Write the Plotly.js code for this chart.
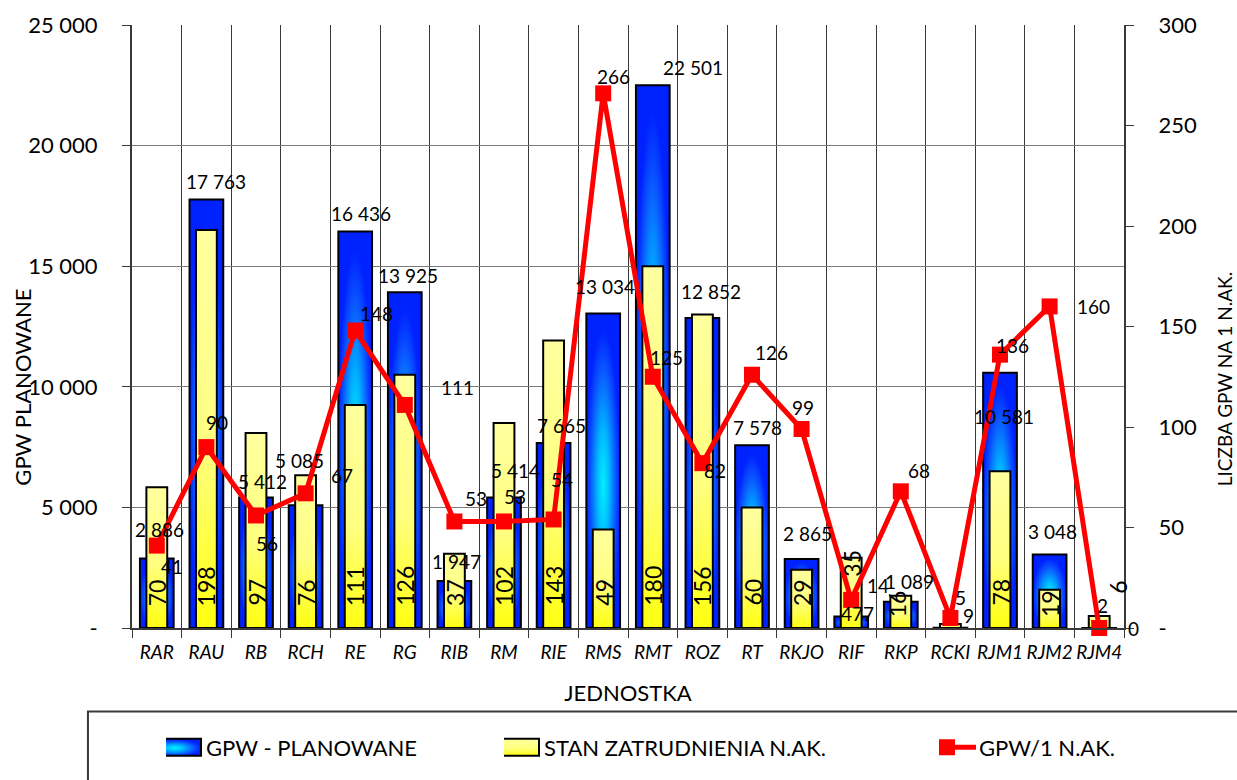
<!DOCTYPE html>
<html>
<head>
<meta charset="utf-8">
<script src="https://cdn.plot.ly/plotly-3.0.1.min.js"></script>
<style>
  html, body { margin: 0; padding: 0; background: #ffffff; }
  #chart { width: 1237px; height: 780px; }
</style>
</head>
<body>
<svg width="0" height="0" style="position:absolute">
  <defs>
    <radialGradient id="gBlue" cx="0.5" cy="0.55" r="0.5">
      <stop offset="0" stop-color="#00f2ff"/>
      <stop offset="0.35" stop-color="#00b8ff"/>
      <stop offset="0.75" stop-color="#0a55ff"/>
      <stop offset="1" stop-color="#0022ff"/>
    </radialGradient>
    <linearGradient id="gYellow" x1="0" y1="0" x2="0" y2="1">
      <stop offset="0" stop-color="#ffff9e"/>
      <stop offset="0.55" stop-color="#ffff80"/>
      <stop offset="1" stop-color="#ffff10"/>
    </linearGradient>
  </defs>
</svg>
<div id="chart"></div>
<script>
// ---- data ----
const categories = ['RAR','RAU','RB','RCH','RE','RG','RIB','RM','RIE','RMS','RMT','ROZ','RT','RKJO','RIF','RKP','RCKI','RJM1','RJM2','RJM4'];
const gpwPlanned = [2886,17763,5412,5085,16436,13925,1947,5414,7665,13034,22501,12852,7578,2865,477,1089,9,10581,3048,2];
const staffCount = [70,198,97,76,111,126,37,102,143,49,180,156,60,29,35,16,2,78,19,6];
const staffLabels = ['70','198','97','76','111','126','37','102','143','49','180','156','60','29','35','16','','78','19','6'];
const gpwPerStaff = [41,90,56,67,148,111,53,53,54,266,125,82,126,99,14,68,5,136,160,0];
const leftTickVals = [0,5000,10000,15000,20000,25000];
const leftTickText = ['-','5 000','10 000','15 000','20 000','25 000'];
const rightTickVals = [0,50,100,150,200,250,300];
const rightTickText = ['-','50','100','150','200','250','300'];

// ---- label placement (pixel nudges, [dx, up]) as in the original chart ----
const gpwLabelOffset = {
  RAR:[3,29], RAU:[10,18], RB:[6,16], RCH:[-6,45], RE:[6,18], RG:[3,17], RIB:[2,20],
  RM:[11,27], RIE:[8,18], RMS:[2,27], RMT:[40,18], ROZ:[9,27], RT:[5,18], RKJO:[6,25],
  RIF:[6,3], RKP:[9,20], RCKI:[18,12], RJM1:[4,-44], RJM2:[3,23], RJM4:[3,22]
};
const ratioLabelOffset = {
  RAR:[15,-21], RAU:[11,25], RB:[11,-28], RCH:[36,18], RE:[21,17], RG:[53,17], RIB:[22,23],
  RM:[11,25], RIE:[8,40], RMS:[10,17], RMT:[14,19], ROZ:[13,-7], RT:[19,22], RKJO:[1,22],
  RIF:[27,14], RKP:[18,21], RCKI:[10,20], RJM1:[12,9], RJM2:[44,0], RJM4:[34,0]
};
const staffLabelOffset = { RIF:[0,49], RKP:[-4,9], RJM2:[0,9], RJM4:[18,32] };
const staffLabelDefault = [0, 20];

const FONT = 'Lato, "Open Sans", sans-serif';
function fmt(v){ return String(v).replace(/\B(?=(\d{3})+(?!\d))/g, ' '); }

const traces = [
  {
    type: 'bar', name: 'GPW - PLANOWANE', x: categories, y: gpwPlanned,
    yaxis: 'y', width: 0.68, legend: 'legend',
    marker: { color: '#1060ff', line: { color: '#000000', width: 2 } },
    hoverinfo: 'skip'
  },
  {
    type: 'bar', name: 'STAN ZATRUDNIENIA N.AK.', x: categories, y: staffCount,
    yaxis: 'y2', width: 0.42, legend: 'legend2',
    marker: { color: '#ffff70', line: { color: '#000000', width: 2 } },
    hoverinfo: 'skip'
  },
  {
    type: 'scatter', mode: 'lines+markers', name: 'GPW/1 N.AK.',
    x: categories, y: gpwPerStaff, yaxis: 'y2', legend: 'legend3',
    line: { color: '#ff0000', width: 5 },
    marker: { color: '#ff0000', symbol: 'square', size: 16 },
    cliponaxis: false, hoverinfo: 'skip'
  }
];

const labelFont = { family: FONT, size: 19, color: '#000000' };
const annotations = [];
gpwPlanned.forEach((v, i) => {
  const o = gpwLabelOffset[categories[i]] || [0, 19];
  annotations.push({
    x: categories[i], y: v, xref: 'x', yref: 'y', text: fmt(v),
    showarrow: false, xanchor: 'center', yanchor: 'middle', xshift: o[0], yshift: o[1],
    font: labelFont
  });
});
gpwPerStaff.forEach((v, i) => {
  const o = ratioLabelOffset[categories[i]] || [12, 20];
  annotations.push({
    x: categories[i], y: v, xref: 'x', yref: 'y2', text: String(v),
    showarrow: false, xanchor: 'center', yanchor: 'middle', xshift: o[0], yshift: o[1],
    font: labelFont
  });
});
staffCount.forEach((v, i) => {
  const o = staffLabelOffset[categories[i]] || staffLabelDefault;
  annotations.push({
    x: categories[i], y: 0, xref: 'x', yref: 'y2', text: staffLabels[i],
    showarrow: false, textangle: -90, yanchor: 'bottom', xshift: o[0], yshift: o[1],
    font: { family: FONT, size: 23, color: '#000000' }
  });
});
annotations.push({
  xref: 'paper', yref: 'paper', x: -0.11, y: 0.40, text: 'GPW PLANOWANE',
  showarrow: false, textangle: -90, xanchor: 'center', yanchor: 'middle',
  font: { family: FONT, size: 22, color: '#000000' }
});
annotations.push({
  xref: 'paper', yref: 'paper', x: 1.1015, y: 0.412, text: 'LICZBA GPW NA 1 N.AK.',
  showarrow: false, textangle: -90, xanchor: 'center', yanchor: 'middle',
  font: { family: FONT, size: 19, color: '#000000' }
});

const legendBase = {
  orientation: 'h', xanchor: 'left', yanchor: 'middle', y: -0.198,
  bgcolor: 'rgba(0,0,0,0)', borderwidth: 0,
  font: { family: FONT, size: 22, color: '#000000' }
};

const layout = {
  width: 1237, height: 780,
  margin: { l: 132, r: 113, t: 25, b: 148 },
  paper_bgcolor: '#ffffff', plot_bgcolor: '#ffffff',
  barmode: 'overlay', bargap: 0,
  font: { family: FONT, color: '#000000' },
  showlegend: true,
  xaxis: {
    type: 'category', tickson: 'boundaries', range: [-0.5, 19.5], autorange: false,
    showgrid: true, gridcolor: '#3a3a3a', gridwidth: 1,
    ticks: 'outside', ticklen: 8, tickcolor: '#3a3a3a', tickwidth: 1,
    showline: true, linecolor: '#3a3a3a', linewidth: 2,
    tickangle: 0,
    tickfont: { family: FONT, size: 19, style: 'italic', color: '#000000' },
    ticklabelstandoff: 6,
    title: { text: 'JEDNOSTKA', font: { family: FONT, size: 22, color: '#000000' }, standoff: 24 },
    fixedrange: true
  },
  yaxis: {
    range: [0, 25000], autorange: false, tickvals: leftTickVals, ticktext: leftTickText,
    showgrid: true, gridcolor: '#7a7a7a', gridwidth: 1.2, zeroline: false,
    ticks: 'outside', ticklen: 8, tickcolor: '#3a3a3a',
    showline: true, linecolor: '#3a3a3a', linewidth: 2,
    tickfont: { family: FONT, size: 22, color: '#000000' },
    ticklabelstandoff: 20, fixedrange: true
  },
  yaxis2: {
    overlaying: 'y', side: 'right', range: [0, 300], autorange: false,
    tickvals: rightTickVals, ticktext: rightTickText,
    showgrid: false, zeroline: false,
    ticks: 'outside', ticklen: 8, tickcolor: '#3a3a3a',
    showline: true, linecolor: '#3a3a3a', linewidth: 2,
    tickfont: { family: FONT, size: 22, color: '#000000' },
    ticklabelstandoff: 20, fixedrange: true
  },
  legend: Object.assign({}, legendBase, { x: 0.0343 }),
  legend2: Object.assign({}, legendBase, { x: 0.375 }),
  legend3: Object.assign({}, legendBase, { x: 0.8135 }),
  shapes: [
    { type: 'rect', xref: 'paper', yref: 'paper', x0: -0.0444, x1: 1.14, y0: -0.1384, y1: -0.30,
      line: { color: '#3a3a3a', width: 2 }, fillcolor: 'rgba(0,0,0,0)', layer: 'above' }
  ],
  annotations: annotations
};

function decorate(gd) {
  gd.querySelectorAll('.barlayer g.trace.bars').forEach(g => {
    const d = g.__data__;
    const name = d && d[0] && d[0].trace ? d[0].trace.name : '';
    const fill = name === 'GPW - PLANOWANE' ? 'url(#gBlue)' : 'url(#gYellow)';
    g.querySelectorAll('path').forEach(p => { p.style.fill = fill; });
  });
  gd.querySelectorAll('g.traces').forEach(g => {
    const d = g.__data__;
    const trace = d && d[0] && d[0].trace ? d[0].trace : null;
    if (!trace) return;
    const txt = g.querySelector('text.legendtext');
    const tx = txt ? parseFloat(txt.getAttribute('x')) || 40 : 40;
    if (trace.type === 'bar') {
      const p = g.querySelector('path.legendbar') || g.querySelector('.legendpoints path');
      if (p) {
        p.removeAttribute('transform');
        const x0 = tx - 58, x1 = tx - 5;
        p.setAttribute('d', 'M' + x0 + ',8.5H' + x1 + 'V-8.5H' + x0 + 'Z');
        p.style.fill = trace.name === 'GPW - PLANOWANE' ? 'url(#gBlue)' : 'url(#gYellow)';
        p.style.strokeWidth = '2px';
        p.style.stroke = '#000000';
      }
    } else {
      const ln = g.querySelector('.legendlines path');
      if (ln) ln.setAttribute('d', 'M' + (tx - 60) + ',0h57');
      const mk = g.querySelector('.legendpoints path');
      if (mk) mk.setAttribute('transform', 'translate(' + (tx - 32) + ',0)');
    }
  });
}

Plotly.newPlot('chart', traces, layout, { staticPlot: true, displayModeBar: false })
  .then(gd => decorate(gd));
</script>
</body>
</html>
